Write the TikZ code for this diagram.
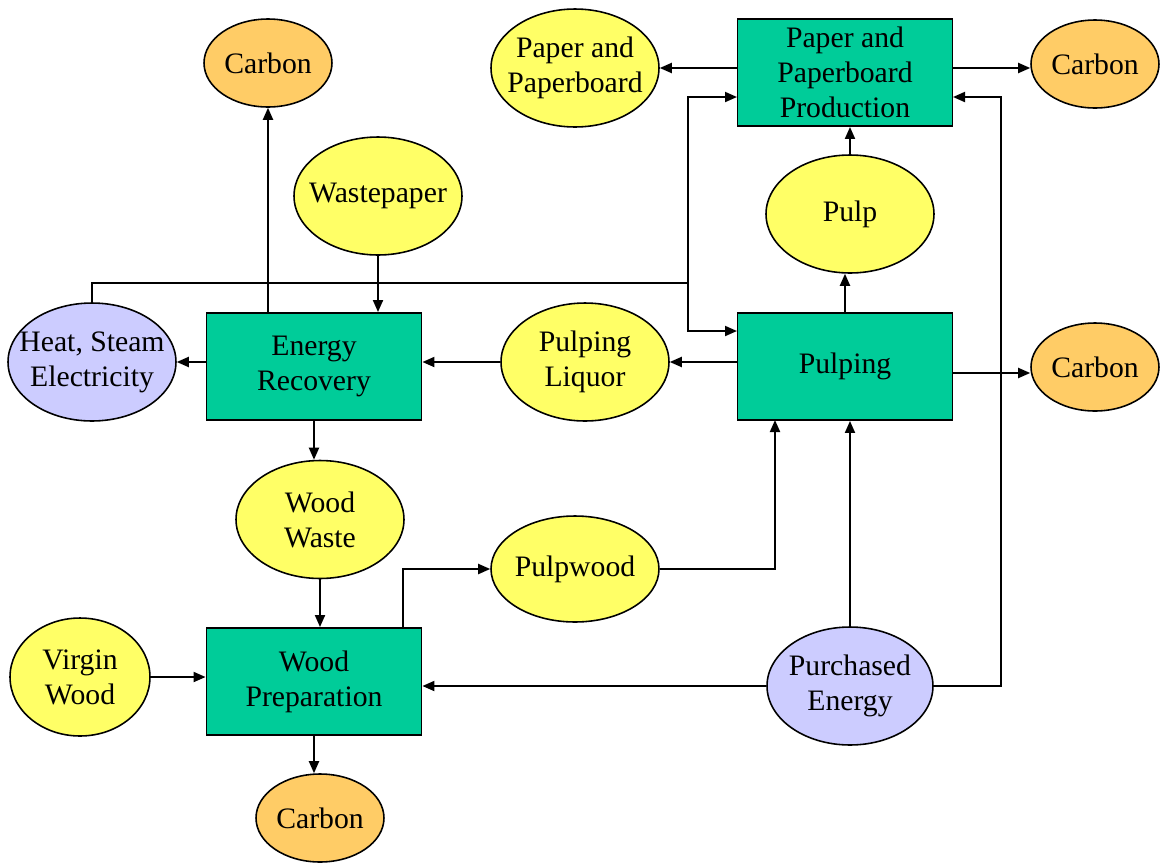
\documentclass[tikz,border=0pt]{standalone}
\usepackage{fontspec}
\setmainfont{Liberation Serif}
\usetikzlibrary{shapes.geometric,arrows.meta}
\definecolor{stepgreen}{HTML}{00CC99}
\definecolor{flowyellow}{HTML}{FFFF66}
\definecolor{carbonorange}{HTML}{FFCC66}
\definecolor{energyblue}{HTML}{CCCCFF}

\begin{document}
\begin{tikzpicture}[x=0.02cm, y=-0.02cm, font=\fontsize{16.9}{20}\selectfont,
	process/.style={draw, line width=1.1pt, fill=stepgreen, minimum width=4.3cm, minimum height=2.14cm, inner sep=0pt, align=center},
	stream/.style={draw, ellipse, line width=0.9pt, fill=flowyellow, minimum width=3.36cm, minimum height=2.36cm, inner ysep=0pt, inner xsep=-1.6cm, align=center},
	carbon/.style={stream, fill=carbonorange, minimum width=2.56cm, minimum height=1.76cm},
	energy/.style={stream, fill=energyblue},
	flow/.style={line width=1.1pt, -{Triangle[length=0.24cm, width=0.2cm]}}]
	\useasboundingbox (0,0) rectangle (1161,863);
	%process boxes
	\node[process] (ppp) at (845,72.5) {Paper and\\Paperboard\\Production};
	\node[process] (pulping) at (845,366.5) {Pulping};
	\node[process] (er) at (314,366.5) {Energy\\Recovery};
	\node[process] (wp) at (314,681.5) {Wood\\Preparation};
	%streams
	\node[stream] (paper) at (575,68) {Paper and\\Paperboard};
	\node[stream] (pulp) at (850,214) {Pulp};
	\node[stream] (wastepaper) at (378,196) {Wastepaper};
	\node[stream] (liquor) at (585,362) {Pulping\\Liquor};
	\node[stream] (woodwaste) at (320,519.5) {Wood\\Waste};
	\node[stream, minimum height=2.12cm] (pulpwood) at (575,569) {Pulpwood};
	\node[stream, minimum width=2.8cm] (virgin) at (80,677) {Virgin\\Wood};
	%energy
	\node[energy] (heat) at (92,362) {Heat, Steam\\Electricity};
	\node[energy, minimum width=3.32cm] (purchased) at (850,686) {Purchased\\Energy};
	%carbon
	\node[carbon] (carbonA) at (268,63) {Carbon};
	\node[carbon] (carbonB) at (1095,64) {Carbon};
	\node[carbon] (carbonC) at (1095,367) {Carbon};
	\node[carbon] (carbonD) at (320,818) {Carbon};
	%turning points
	\coordinate (split) at (688,283);
	\coordinate (pppinl) at (737,97);
	\coordinate (pulpingin) at (737,331);
	\coordinate (pppturn) at (1001,97);
	\coordinate (pppinr) at (953,97);
	\coordinate (wpout) at (403,628);
	\coordinate (pulpwoodin) at (775,420);
	%arrows
	\draw[flow] (er.north -| carbonA.south) -- (carbonA.south);
	\draw[flow] (wastepaper.south) -- (wastepaper.south |- er.north);
	\draw[flow] (er.west |- heat.east) -- (heat.east);
	\draw[flow] (liquor.west) -- (liquor.west -| er.east);
	\draw[flow] (pulping.west |- liquor.east) -- (liquor.east);
	\draw[flow] (pulping.north) -- (pulping.north |- pulp.south);
	\draw[flow] (pulp.north) -- (pulp.north |- ppp.south);
	\draw[flow] (ppp.west |- paper.east) -- (paper.east);
	\draw[flow] ([yshift=-0.08cm]ppp.east |- carbonB.west) -- ([yshift=-0.08cm]carbonB.west);
	\draw[flow] ([yshift=-0.12cm]pulping.east |- carbonC.west) -- ([yshift=-0.12cm]carbonC.west);
	\draw[flow] (er.south) -- (er.south |- woodwaste.north);
	\draw[flow] (woodwaste.south) -- (woodwaste.south |- wp.north);
	\draw[flow] (virgin.east) -- (virgin.east -| wp.west);
	\draw[flow] (wp.south) -- (wp.south |- carbonD.north);
	\draw[flow] (wpout) |- (pulpwood.west);
	\draw[flow] (pulpwood.east) -| (pulpwoodin);
	\draw[flow] (purchased.north) -- (purchased.north |- pulping.south);
	\draw[flow] (purchased.west) -- (purchased.west -| wp.east);
	\draw[flow] (purchased.east) -| (pppturn) -- (pppinr);
	%heat supply
	\draw[line width=1.1pt] (heat.north) |- (split);
	\draw[flow] (split) |- (pppinl);
	\draw[flow] (split) |- (pulpingin);
\end{tikzpicture}
\end{document}
